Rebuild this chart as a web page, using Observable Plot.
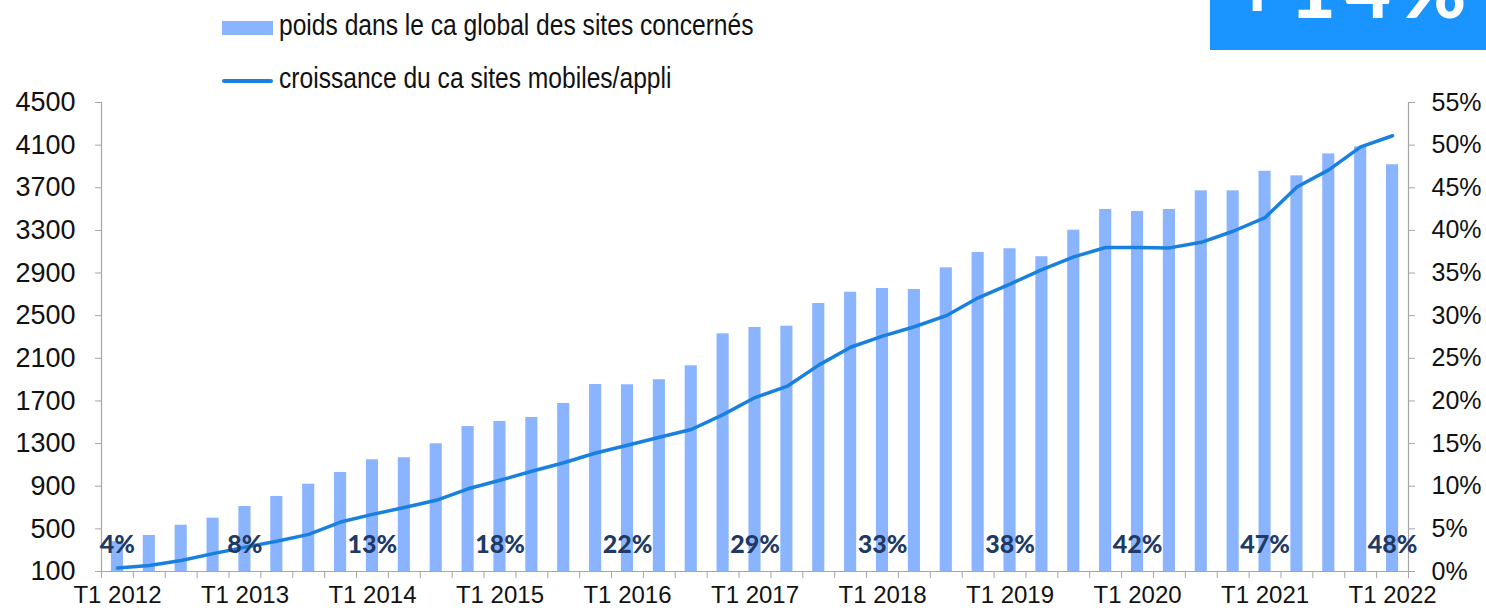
<!DOCTYPE html>
<html>
<head>
<meta charset="utf-8">
<script src="https://cdn.jsdelivr.net/npm/d3@7"></script>
<script src="https://cdn.jsdelivr.net/npm/@observablehq/plot@0.6"></script>
<style>
  body { margin: 0; background: #ffffff; }
  #wrap { position: relative; width: 1486px; height: 608px; overflow: hidden; background: #fff;
          font-family: "Liberation Sans Narrow", "Liberation Sans", sans-serif; }
  #chart { position: absolute; left: 0; top: 0; }
  .swatch-bar { position: absolute; left: 222px; top: 21px; width: 51px; height: 14px; background: #8ab4fe; }
  .swatch-line { position: absolute; left: 222px; top: 79px; width: 51px; height: 4px; background: #1a80e0; border-radius: 2px; }
  .leg-text { position: absolute; left: 279px; font-size: 30px; color: #111; white-space: nowrap; line-height: 1;
              transform: scaleX(0.82); transform-origin: 0 0; }
  #badge { position: absolute; left: 1210px; top: 0; }
</style>
</head>
<body>
<div id="wrap">
  <div id="chart"></div>
  <div class="swatch-bar"></div>
  <div class="leg-text" id="leg1" style="top:10px;"></div>
  <div class="swatch-line"></div>
  <div class="leg-text" id="leg2" style="top:63px;"></div>
  <svg id="badge" width="276" height="50">
    <rect x="0" y="0" width="276" height="50" fill="#1a94ff"></rect>
    <text id="badgeText" x="24" y="18" fill="#ffffff" font-family="Lato, sans-serif" font-weight="900" font-size="80" letter-spacing="9"></text>
  </svg>
</div>
<script>
// ---- data ----
const quarters = [
  "T1 2012","T2 2012","T3 2012","T4 2012",
  "T1 2013","T2 2013","T3 2013","T4 2013",
  "T1 2014","T2 2014","T3 2014","T4 2014",
  "T1 2015","T2 2015","T3 2015","T4 2015",
  "T1 2016","T2 2016","T3 2016","T4 2016",
  "T1 2017","T2 2017","T3 2017","T4 2017",
  "T1 2018","T2 2018","T3 2018","T4 2018",
  "T1 2019","T2 2019","T3 2019","T4 2019",
  "T1 2020","T2 2020","T3 2020","T4 2020",
  "T1 2021","T2 2021","T3 2021","T4 2021",
  "T1 2022"
];
// bars (left axis)
const weight = [380, 438, 534, 600, 710, 804, 919, 1029, 1148, 1167, 1298, 1460, 1507, 1545, 1676,
  1854, 1852, 1899, 2030, 2330, 2389, 2401, 2614, 2720, 2755, 2746, 2949, 3093, 3128, 3053,
  3302, 3496, 3478, 3496, 3671, 3671, 3855, 3812, 4018, 4084, 3916];
// line (right axis, %)
const growth = [0.4, 0.7, 1.3, 2.1, 2.85, 3.55, 4.35, 5.8, 6.7, 7.5, 8.35, 9.7, 10.7, 11.75, 12.75,
  13.9, 14.8, 15.75, 16.65, 18.4, 20.4, 21.7, 24.2, 26.3, 27.6, 28.7, 30.0, 32.1, 33.7, 35.4,
  36.9, 38.0, 38.0, 37.95, 38.6, 39.9, 41.5, 45.1, 47.1, 49.8, 51.1];
const yearQuarters = ["T1 2012","T1 2013","T1 2014","T1 2015","T1 2016","T1 2017","T1 2018","T1 2019","T1 2020","T1 2021","T1 2022"];
const yearLabels = ["4%","8%","13%","18%","22%","29%","33%","38%","42%","47%","48%"];
const leftTicks = [100, 500, 900, 1300, 1700, 2100, 2500, 2900, 3300, 3700, 4100, 4500];
const rightTicks = [0, 5, 10, 15, 20, 25, 30, 35, 40, 45, 50, 55];
const legend1 = "poids dans le ca global des sites concernés";
const legend2 = "croissance du ca sites mobiles/appli";
const badge = "+14%";

// ---- secondary axis mapping (0–55 % onto 100–4500) ----
const yMin = 100, yMax = 4500, pMax = 55;
const pctToY = p => yMin + p / pMax * (yMax - yMin);
const yToPct = v => (v - yMin) / (yMax - yMin) * pMax;

const rows = quarters.map((q, i) => ({q, w: weight[i], g: pctToY(growth[i])}));
const labelRows = yearQuarters.map((q, i) => ({q, t: yearLabels[i]}));

const W = 1486, H = 608, mL = 101, mR = 78, mT = 102, mB = 37;
const halfStep = (W - mL - mR) / quarters.length / 2;
const axisGray = "#a6a6a6";

const chart = Plot.plot({
  width: W, height: H,
  marginLeft: mL, marginRight: mR, marginTop: mT, marginBottom: mB,
  style: {fontFamily: '"Liberation Sans Narrow", "Liberation Sans", sans-serif', fontSize: "25px", color: "#111", background: "transparent", overflow: "visible"},
  x: {type: "band", domain: quarters, paddingInner: 0.62, paddingOuter: 0.31, axis: null, label: null},
  y: {domain: [yMin, yMax], axis: null, label: null},
  marks: [
    Plot.barY(rows, {x: "q", y1: yMin, y2: "w", fill: "#8ab4fe"}),
    Plot.ruleY([yMin], {stroke: axisGray, strokeWidth: 1.2}),
    Plot.ruleX([quarters[0]], {dx: -halfStep, stroke: axisGray, strokeWidth: 1.2}),
    Plot.ruleX([quarters[quarters.length - 1]], {dx: halfStep, stroke: axisGray, strokeWidth: 1.2}),
    Plot.axisX({ticks: quarters, tickSize: 7, tickFormat: () => "", dx: -halfStep, stroke: axisGray, label: null}),
    Plot.axisX({ticks: [quarters[quarters.length - 1]], tickSize: 7, tickFormat: () => "", dx: halfStep, stroke: axisGray, label: null}),
    Plot.axisX({ticks: yearQuarters, tickSize: 0, tickPadding: 14, fill: "#111", fontSize: 24, label: null}),
    Plot.axisY({anchor: "left", ticks: leftTicks, tickFormat: d => String(d), tickSize: 6, tickPadding: 20, stroke: axisGray, fill: "#111", fontSize: 27, label: null}),
    Plot.axisY({anchor: "right", ticks: rightTicks.map(pctToY), tickFormat: v => Math.round(yToPct(v)) + "%", tickSize: 6, tickPadding: 17, stroke: axisGray, fill: "#111", fontSize: 25, label: null}),
    Plot.line(rows, {x: "q", y: "g", stroke: "#1a80e0", strokeWidth: 3.5, strokeLinejoin: "round", strokeLinecap: "round"}),
    Plot.text(labelRows, {x: "q", text: "t", frameAnchor: "bottom", dy: -19, fill: "#1f3a64", fontWeight: 900, fontSize: 25, fontFamily: "Lato, sans-serif"})
  ]
});
document.getElementById("chart").appendChild(chart);
document.getElementById("leg1").textContent = legend1;
document.getElementById("leg2").textContent = legend2;
document.getElementById("badgeText").textContent = badge;
</script>
</body>
</html>
